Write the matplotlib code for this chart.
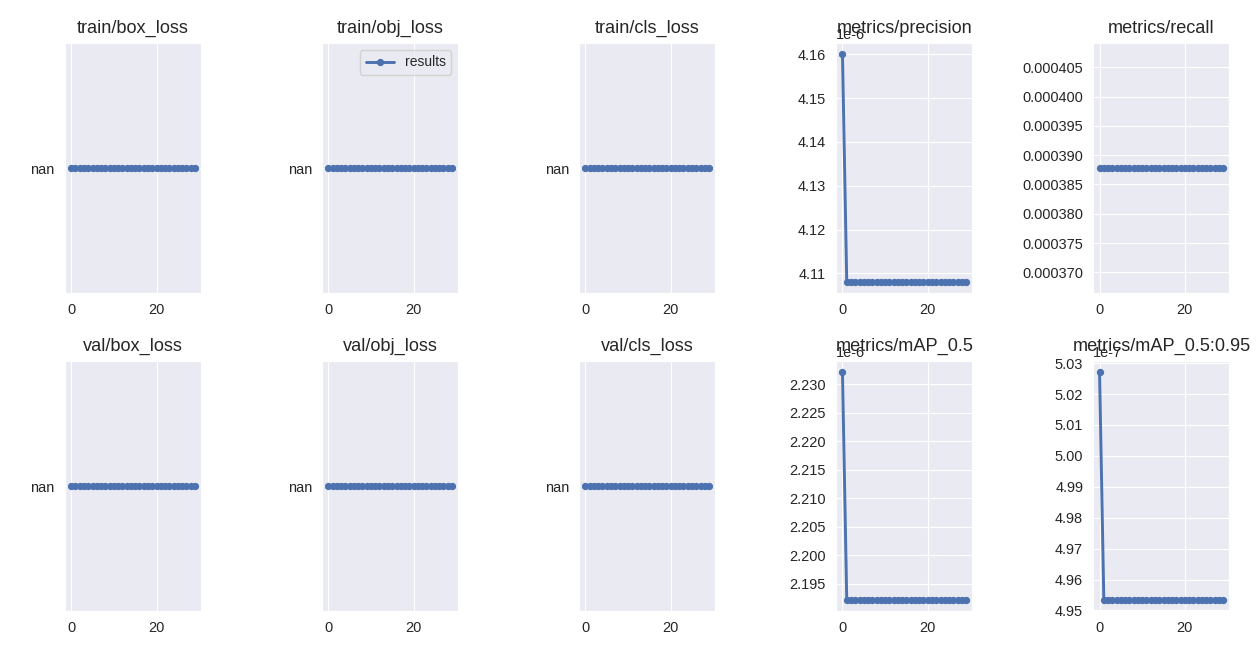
import numpy as np
import matplotlib.pyplot as plt
import seaborn as sns
from matplotlib.ticker import MultipleLocator

sns.set_style('darkgrid')
plt.rcParams['font.family'] = ['Liberation Sans', 'DejaVu Sans']
plt.rcParams['font.size'] = 10
plt.rcParams['axes.unicode_minus'] = False

epochs = np.arange(30)
titles = ['train/box_loss', 'train/obj_loss', 'train/cls_loss', 'metrics/precision', 'metrics/recall',
          'val/box_loss', 'val/obj_loss', 'val/cls_loss', 'metrics/mAP_0.5', 'metrics/mAP_0.5:0.95']

# losses were all nan in results.csv
train_box_loss = [np.nan] * 30
train_obj_loss = [np.nan] * 30
train_cls_loss = [np.nan] * 30
val_box_loss = [np.nan] * 30
val_obj_loss = [np.nan] * 30
val_cls_loss = [np.nan] * 30
precision = [4.160e-6] + [4.1081e-6] * 29
recall = [0.0003878] * 30
map50 = [2.2321e-6] + [2.1922e-6] * 29
map50_95 = [5.027e-7] + [4.9535e-7] * 29

series = [train_box_loss, train_obj_loss, train_cls_loss, precision, recall,
          val_box_loss, val_obj_loss, val_cls_loss, map50, map50_95]
# y tick spacing for the metric panels
ystep = {3: 0.01e-6, 4: 5e-6, 8: 0.005e-6, 9: 0.01e-7}

fig, ax = plt.subplots(2, 5, figsize=(12, 6.286))
fig.subplots_adjust(left=0.0517, right=0.9772, top=0.9347, bottom=0.0728, wspace=0.89, hspace=0.272)
ax = ax.ravel()
for i, y in enumerate(series):
    y = np.array(y, dtype=float)
    is_nan = np.isnan(y).all()
    ax[i].plot(epochs, np.nan_to_num(y), marker='.', label='results', linewidth=2, markersize=8,
               color='#4c72b0')
    if is_nan:
        ax[i].set_yticks([0])
        ax[i].set_yticklabels(['nan'])
    else:
        ax[i].yaxis.set_major_locator(MultipleLocator(ystep[i]))
    # fixed y -> title stays put over the offset text, like the original
    ax[i].set_title(titles[i], fontsize=12.5, y=1.0, pad=7)
    ax[i].tick_params(labelsize=10)
    ax[i].yaxis.get_offset_text().set_fontsize(10)
ax[1].legend(fontsize=9.5)
fig.savefig('out.png', dpi=104.84)
